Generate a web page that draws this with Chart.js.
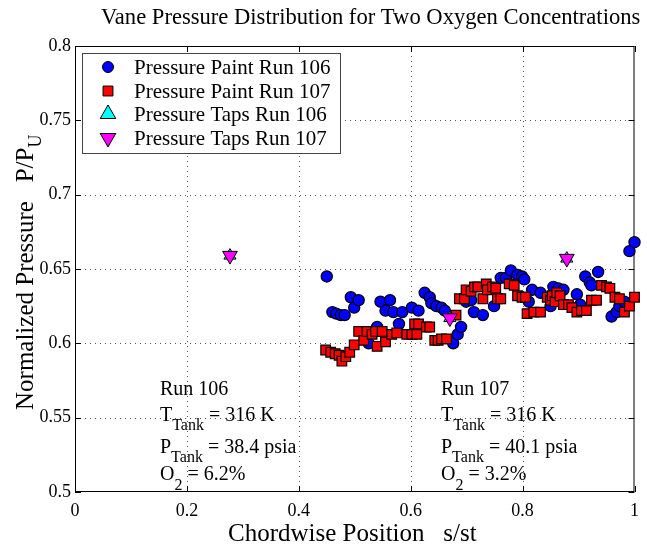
<!DOCTYPE html>
<html>
<head>
<meta charset="utf-8">
<script src="https://cdn.jsdelivr.net/npm/chart.js@4"></script>
<style>
body{margin:0;background:#fff}
#Box{width:647px;height:544px}
</style>
</head>
<body>
<div id="Box"><canvas id="VaneChartHTML" width="647" height="544"></canvas></div>
<script>
//												Data
const PaintX106=[0.450,0.460,0.467,0.475,0.482,0.493,0.499,0.507,0.525,0.540,0.546,0.555,0.563,0.569,0.579,0.585,0.602,0.614,0.625,0.634,0.637,0.646,0.655,0.661,0.676,0.684,0.690,0.699,0.708,0.713,0.729,0.749,0.761,0.770,0.779,0.791,0.799,0.803,0.811,0.817,0.832,0.850,0.855,0.864,0.873,0.897,0.903,0.912,0.920,0.923,0.935,0.959,0.968,0.973,0.982,0.991,1.000]
const PaintY106=[0.645,0.621,0.620,0.619,0.619,0.631,0.624,0.629,0.600,0.611,0.628,0.622,0.629,0.621,0.613,0.621,0.624,0.622,0.634,0.631,0.627,0.625,0.624,0.622,0.600,0.606,0.611,0.628,0.629,0.621,0.619,0.625,0.644,0.644,0.649,0.646,0.645,0.643,0.628,0.636,0.634,0.625,0.638,0.637,0.636,0.633,0.626,0.645,0.641,0.639,0.648,0.618,0.621,0.625,0.628,0.662,0.668]
const PaintX107=[0.448,0.457,0.465,0.472,0.477,0.484,0.491,0.499,0.507,0.516,0.522,0.531,0.537,0.540,0.549,0.555,0.566,0.575,0.593,0.602,0.611,0.607,0.614,0.628,0.634,0.643,0.649,0.655,0.664,0.681,0.687,0.696,0.699,0.708,0.714,0.720,0.729,0.735,0.737,0.746,0.752,0.755,0.761,0.776,0.785,0.791,0.799,0.805,0.808,0.820,0.832,0.844,0.850,0.853,0.858,0.861,0.867,0.873,0.882,0.888,0.897,0.905,0.914,0.923,0.932,0.941,0.950,0.956,0.965,0.973,0.982,0.991,1.000]
const PaintY107=[0.5955,0.594,0.593,0.592,0.588,0.591,0.594,0.599,0.608,0.602,0.608,0.606,0.608,0.598,0.608,0.601,0.606,0.607,0.606,0.606,0.606,0.613,0.613,0.611,0.611,0.602,0.602,0.603,0.603,0.619,0.630,0.630,0.636,0.635,0.638,0.638,0.630,0.640,0.636,0.638,0.637,0.630,0.630,0.640,0.639,0.632,0.631,0.631,0.620,0.621,0.621,0.631,0.629,0.632,0.628,0.634,0.632,0.626,0.626,0.624,0.621,0.622,0.622,0.629,0.629,0.639,0.638,0.637,0.631,0.630,0.621,0.625,0.631]
const TapsX106=[0.277,0.670,0.879]
const TapsY106=[0.659,0.617,0.657]
const TapsX107=[0.277,0.670,0.879]
const TapsY107=[0.659,0.617,0.657]
const SeriesNames=['Pressure Paint Run 106','Pressure Paint Run 107','Pressure Taps Run 106','Pressure Taps Run 107']
const XTicks=[0,0.2,0.4,0.6,0.8,1]
const YTicks=[0.5,0.55,0.6,0.65,0.7,0.75,0.8]

//												Helpers
const SERIF="'Liberation Serif','Times New Roman',serif"
function Pts(X,Y){return X.map((x,i)=>({x:x,y:Y[i]}))}
function Sub(ctx,x,y,main,sub,size,subSize,drop){ctx.font=size+'px '+SERIF;ctx.fillText(main,x,y);let w=ctx.measureText(main).width;ctx.font=subSize+'px '+SERIF;ctx.fillText(sub,x+w,y+drop);return x+w+ctx.measureText(sub).width}
function Block(ctx,x,run,t,p,o){
	ctx.fillStyle='#000';ctx.textAlign='left';ctx.textBaseline='alphabetic'
	ctx.font='20px '+SERIF;ctx.fillText(run,x,395)
	let e=Sub(ctx,x,421,'T','Tank',20,16,9);ctx.font='20px '+SERIF;ctx.fillText(' = '+t,e,421)
	e=Sub(ctx,x,453,'P','Tank',20,16,9);ctx.font='20px '+SERIF;ctx.fillText(' = '+p,e,453)
	e=Sub(ctx,x,480,'O','2',20,16,10);ctx.font='20px '+SERIF;ctx.fillText(' = '+o,e,480)
}

//												Plugins
const boxPlugin={id:'box',beforeDatasetsDraw(chart){
	const ctx=chart.ctx,a=chart.chartArea,sx=chart.scales.x,sy=chart.scales.y
	ctx.save()
	// dotted grid
	ctx.strokeStyle='#555';ctx.lineWidth=1;ctx.setLineDash([1,4]);ctx.beginPath()
	XTicks.slice(1,-1).forEach(v=>{let x=Math.round(sx.getPixelForValue(v))+0.5;ctx.moveTo(x,a.bottom);ctx.lineTo(x,a.top)})
	YTicks.slice(1,-1).forEach(v=>{let y=Math.round(sy.getPixelForValue(v))+0.5;ctx.moveTo(a.left,y);ctx.lineTo(a.right,y)})
	ctx.stroke();ctx.setLineDash([])
	// box and inward ticks
	ctx.strokeStyle='#000'
	ctx.strokeRect(a.left+0.5,a.top+0.5,a.right-a.left-1,a.bottom-a.top-1)
	ctx.beginPath()
	XTicks.forEach(v=>{let x=Math.round(sx.getPixelForValue(v))+0.5;ctx.moveTo(x,a.bottom);ctx.lineTo(x,a.bottom-6);ctx.moveTo(x,a.top);ctx.lineTo(x,a.top+6)})
	YTicks.forEach(v=>{let y=Math.round(sy.getPixelForValue(v))+0.5;ctx.moveTo(a.left,y);ctx.lineTo(a.left+6,y);ctx.moveTo(a.right,y);ctx.lineTo(a.right-6,y)})
	ctx.stroke();ctx.restore()
}}

const textPlugin={id:'texts',afterDraw(chart){
	const ctx=chart.ctx
	ctx.save();ctx.fillStyle='#000';ctx.textBaseline='alphabetic';ctx.textAlign='left'
	// title
	ctx.font='22.6px '+SERIF;ctx.fillText('Vane Pressure Distribution for Two Oxygen Concentrations',101,24)
	// x title
	ctx.font='25px '+SERIF;ctx.fillText('Chordwise Position   s/st',228,541)
	// y title
	ctx.save();ctx.translate(33,410);ctx.rotate(-Math.PI/2)
	Sub(ctx,0,0,'Normalized Pressure   P/P','U',25,18,8)
	ctx.restore()
	// legend
	ctx.fillStyle='#fff';ctx.fillRect(82,53,258,100)
	ctx.strokeStyle='#444';ctx.lineWidth=1;ctx.strokeRect(82.5,53.5,258,100)
	const rows=[67,91,114,138]
	chart.data.datasets.forEach((d,i)=>{
		ctx.fillStyle=d.backgroundColor;ctx.strokeStyle='#000';ctx.lineWidth=1
		Chart.helpers.drawPoint(ctx,{pointStyle:d.pointStyle,radius:d.legendRadius,rotation:d.rotation||0,borderWidth:1},108,rows[i])
		ctx.fillStyle='#000';ctx.font='21px '+SERIF;ctx.fillText(SeriesNames[i],134,rows[i]+7)
	})
	// run notes
	Block(ctx,160,'Run 106','316 K','38.4 psia','6.2%')
	Block(ctx,441,'Run 107','316 K','40.1 psia','3.2%')
	ctx.restore()
}}

//												Chart
let VaneChart=new Chart(
	document.getElementById('VaneChartHTML'),
	{
		type:'scatter',
		plugins:[boxPlugin,textPlugin],
		data:{
			datasets:[
				{label:SeriesNames[0],data:Pts(PaintX106,PaintY106),pointStyle:'circle',pointRadius:5.6,legendRadius:5.5,backgroundColor:'#0000ff',borderColor:'#000',borderWidth:1.2,order:4,clip:false},
				{label:SeriesNames[1],data:Pts(PaintX107,PaintY107),pointStyle:'rect',pointRadius:6.8,legendRadius:7,backgroundColor:'#ff0000',borderColor:'#000',borderWidth:1.2,order:3,clip:false},
				{label:SeriesNames[2],data:Pts(TapsX106,TapsY106),pointStyle:'triangle',pointRadius:7,legendRadius:9,backgroundColor:'#00ffff',borderColor:'#000',borderWidth:1,order:2,clip:false},
				{label:SeriesNames[3],data:Pts(TapsX107,TapsY107),pointStyle:'triangle',rotation:180,pointRotation:180,pointRadius:8.5,legendRadius:9,backgroundColor:'#ff00ff',borderColor:'#000',borderWidth:1,order:1,clip:false}
			]
		},
		options:{
			responsive:false,animation:false,
			layout:{padding:{top:46,right:7,left:0,bottom:0}},
			plugins:{legend:{display:false},tooltip:{enabled:false}},
			scales:{
				x:{type:'linear',min:0,max:1,
					afterFit:s=>{s.height=52},
					afterBuildTicks:s=>{s.ticks=XTicks.map(v=>({value:v}))},
					ticks:{padding:8,color:'#000',font:{family:SERIF,size:18},maxRotation:0,autoSkip:false,callback:v=>String(Number(v.toFixed(2)))},
					grid:{display:false,drawTicks:false},
					border:{display:false}},
				y:{type:'linear',min:0.5,max:0.8,
					afterFit:s=>{s.width=75},
					afterBuildTicks:s=>{s.ticks=YTicks.map(v=>({value:v}))},
					ticks:{padding:4,color:'#000',font:{family:SERIF,size:18},autoSkip:false,callback:v=>String(Number(v.toFixed(2)))},
					grid:{display:false,drawTicks:false},
					border:{display:false}}
			}
		}
	}
)
</script>
</body>
</html>
